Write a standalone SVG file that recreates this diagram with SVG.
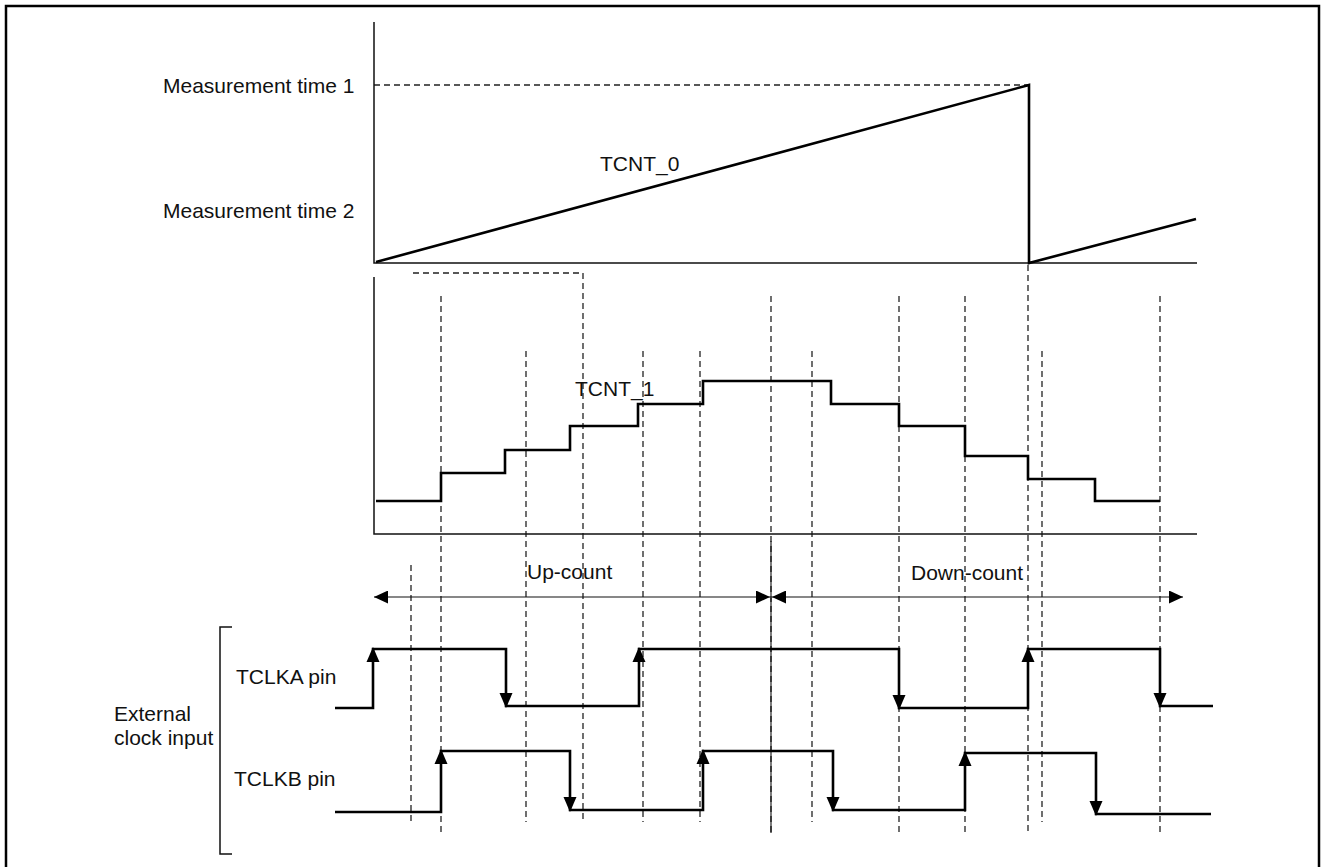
<svg xmlns="http://www.w3.org/2000/svg" xmlns:xlink="http://www.w3.org/1999/xlink" width="1322" height="867" viewBox="0 0 1322 867">
<style>
text{font-family:"Liberation Sans",Arial,sans-serif;font-size:21px;fill:#111}
.ax{stroke:#111;stroke-width:1.5;fill:none}
.sig{stroke:#000;stroke-width:2.6;fill:none}
.dash{stroke:#222;stroke-width:1.3;stroke-dasharray:6 4;fill:none}
.thin{stroke:#111;stroke-width:1.1;fill:none}
</style>
<defs>
<path id="up" d="M0,0 L-6.5,15 L6.5,15 Z" fill="#000"/>
<path id="dn" d="M0,0 L-6.5,-15 L6.5,-15 Z" fill="#000"/>
<marker id="ah" viewBox="0 0 14 13" refX="14" refY="6.5" markerWidth="14" markerHeight="13" markerUnits="userSpaceOnUse" orient="auto-start-reverse">
<path d="M0,0 L14,6.5 L0,13 Z" fill="#000"/>
</marker>
</defs>
<rect x="6" y="6" width="1313" height="880" fill="#fff" stroke="#000" stroke-width="2.5"/>

<g id="guides">
<path class="dash" d="M374,85 H1029"/>
<path class="dash" d="M413,273 H583 V822"/>
<path class="dash" d="M441,296 V833 M771,296 V833 M899,296 V833 M965,296 V833 M1160,296 V833 M1028,265 V833"/>
<path class="dash" d="M526,351 V822 M643,351 V822 M700,351 V822 M812,351 V822 M1042,351 V822 M411,565 V822"/>
<path class="thin" d="M771,541 V833"/>
</g>

<g id="chart-tcnt0">
<path class="ax" d="M374,22 V263 H1197"/>
<path class="sig" d="M376,262 L1029,85 V263 L1196,219"/>
<text x="600" y="171">TCNT_0</text>
<text x="163" y="93">Measurement time 1</text>
<text x="163" y="218">Measurement time 2</text>
</g>

<g id="chart-tcnt1">
<path class="ax" d="M374,277 V534 H1197"/>
<path class="sig" d="M376,501 H441 V473 H505 V450 H570 V426 H638 V404 H703 V381 H831 V404 H899 V426 H965 V456 H1028 V479 H1095 V501 H1160"/>
<text x="575" y="396">TCNT_1</text>
</g>

<g id="connectors">
<path class="thin" d="M374,597 H770" marker-start="url(#ah)" marker-end="url(#ah)"/>
<path class="thin" d="M772,597 H1183" marker-start="url(#ah)" marker-end="url(#ah)"/>
</g>
<g id="label-up"><text x="527" y="579">Up-count</text></g>
<g id="label-down"><text x="911" y="580">Down-count</text></g>

<g id="ext-clock">
<path class="ax" d="M232,627 H220 V854 H232"/>
<text x="114" y="721">External</text>
<text x="114" y="745">clock input</text>
</g>

<g id="tclka">
<text x="236" y="684">TCLKA pin</text>
<path class="sig" d="M335,708 H373 V649 H506 V706 H639 V649 H899 V708 H1028 V649 H1160 V706 H1213" stroke-linejoin="miter"/>
<use xlink:href="#up" x="373" y="647"/>
<use xlink:href="#dn" x="506" y="708"/>
<use xlink:href="#up" x="639" y="647"/>
<use xlink:href="#dn" x="899" y="710"/>
<use xlink:href="#up" x="1028" y="647"/>
<use xlink:href="#dn" x="1160" y="708"/>
</g>

<g id="tclkb">
<text x="234" y="786">TCLKB pin</text>
<path class="sig" d="M335,812 H441 V751 H570 V810 H703 V751 H833 V810 H965 V753 H1096 V814 H1211"/>
<use xlink:href="#up" x="441" y="749"/>
<use xlink:href="#dn" x="570" y="812"/>
<use xlink:href="#up" x="703" y="749"/>
<use xlink:href="#dn" x="833" y="812"/>
<use xlink:href="#up" x="965" y="751"/>
<use xlink:href="#dn" x="1096" y="816"/>
</g>
</svg>
